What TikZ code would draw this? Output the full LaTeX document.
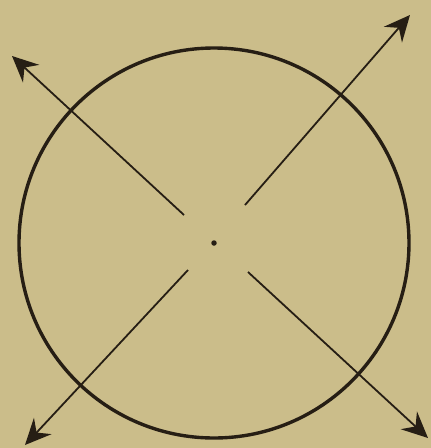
\documentclass[tikz,border=0pt]{standalone}
\usetikzlibrary{arrows.meta}
\definecolor{paper}{RGB}{203,189,138}
\definecolor{ink}{RGB}{38,30,20}
\begin{document}
\begin{tikzpicture}[
x=1pt,y=-1pt,
ring/.style={
circle,draw=ink,
line width=3.4pt,
minimum size=390pt,
inner sep=0pt
},
dot/.style={
circle,fill=ink,
minimum size=5.5pt,
inner sep=0pt
},
ray/.style={-{Stealth[length=26pt,width=24pt,inset=9pt]}, draw=ink, line width=1.8pt}
]

% =======================
% BACKGROUND
% =======================

\fill[paper] (0,0) rectangle (431,448);
\useasboundingbox (0,0) rectangle (431,448);

% =======================
% CIRCLE AND CENTRE
% =======================

\node[ring] (rim) at (214,243) {};
\node[dot] (centre) at (214,243) {};

% =======================
% RAY ENDS
% =======================

\coordinate (nwin) at (184,215);
\coordinate (nwtip) at (12,56);

\coordinate (nein) at (245,205);
\coordinate (netip) at (410,15);

\coordinate (swin) at (188,270);
\coordinate (swtip) at (25,445);

\coordinate (sein) at (248,272);
\coordinate (setip) at (428,438);

% =======================
% ARROWS
% =======================

\draw[ray] (nwin) -- (nwtip);
\draw[ray] (nein) -- (netip);
\draw[ray] (swin) -- (swtip);
\draw[ray] (sein) -- (setip);

\end{tikzpicture}
\end{document}
